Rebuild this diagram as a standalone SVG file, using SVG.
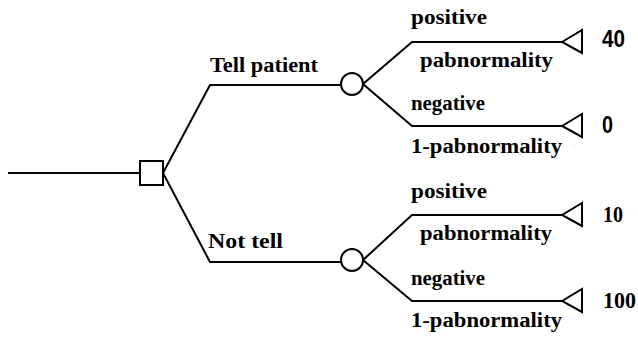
<svg xmlns="http://www.w3.org/2000/svg" width="638" height="338" viewBox="0 0 638 338">
<style>
.ln{fill:none;stroke:#000;stroke-width:2;stroke-linejoin:round}
.nd{fill:#fff;stroke:#000;stroke-width:2}
.lb{font-family:"Liberation Serif",serif;font-weight:bold;font-size:20px;fill:#000}
.v{font-family:"Liberation Sans",Arial,sans-serif;font-weight:bold;font-size:23px;fill:#000}
.vs{font-family:"Liberation Serif",serif;font-weight:bold;font-size:23px;fill:#000}
</style>
<rect width="638" height="338" fill="#fff"/>
<g id="connectors">
<path class="ln" d="M8,173 H140"/>
<path class="ln" d="M163,173 L210,85 H341"/>
<path class="ln" d="M163,173 L210,262 H341"/>
<path class="ln" d="M363,84 L412,42 H562"/>
<path class="ln" d="M363,84 L412,126 H562"/>
<path class="ln" d="M363,260 L412,215 H562"/>
<path class="ln" d="M363,260 L412,301 H562"/>
</g>
<g id="decision"><rect class="nd" x="140" y="161" width="23" height="24"/></g>
<g id="chance1"><circle class="nd" cx="352" cy="84" r="11"/></g>
<g id="chance2"><circle class="nd" cx="352" cy="260" r="11"/></g>
<g id="end1"><polygon class="nd" points="562,42 582,30 582,53"/><text class="v" x="602" y="47" textLength="23" lengthAdjust="spacingAndGlyphs">40</text></g>
<g id="end2"><polygon class="nd" points="562,126 582,114 582,137"/><text class="v" x="602" y="133" textLength="11" lengthAdjust="spacingAndGlyphs">0</text></g>
<g id="end3"><polygon class="nd" points="562,215 582,203 582,226"/><text class="vs" x="603" y="222" textLength="20" lengthAdjust="spacingAndGlyphs">10</text></g>
<g id="end4"><polygon class="nd" points="562,301 582,289 582,312"/><text class="vs" x="603" y="308" textLength="33" lengthAdjust="spacingAndGlyphs">100</text></g>
<g id="labels">
<text class="lb" x="210" y="72" textLength="108" lengthAdjust="spacingAndGlyphs">Tell patient</text>
<text class="lb" x="208" y="248" textLength="75" lengthAdjust="spacingAndGlyphs">Not tell</text>
<text class="lb" x="411" y="24" textLength="76" lengthAdjust="spacingAndGlyphs">positive</text>
<text class="lb" x="420" y="67" textLength="133" lengthAdjust="spacingAndGlyphs">pabnormality</text>
<text class="lb" x="411" y="110" textLength="74" lengthAdjust="spacingAndGlyphs">negative</text>
<text class="lb" x="411" y="153" textLength="151" lengthAdjust="spacingAndGlyphs">1-pabnormality</text>
<text class="lb" x="411" y="198" textLength="76" lengthAdjust="spacingAndGlyphs">positive</text>
<text class="lb" x="420" y="240" textLength="132" lengthAdjust="spacingAndGlyphs">pabnormality</text>
<text class="lb" x="411" y="285" textLength="74" lengthAdjust="spacingAndGlyphs">negative</text>
<text class="lb" x="411" y="327" textLength="151" lengthAdjust="spacingAndGlyphs">1-pabnormality</text>
</g>
</svg>
